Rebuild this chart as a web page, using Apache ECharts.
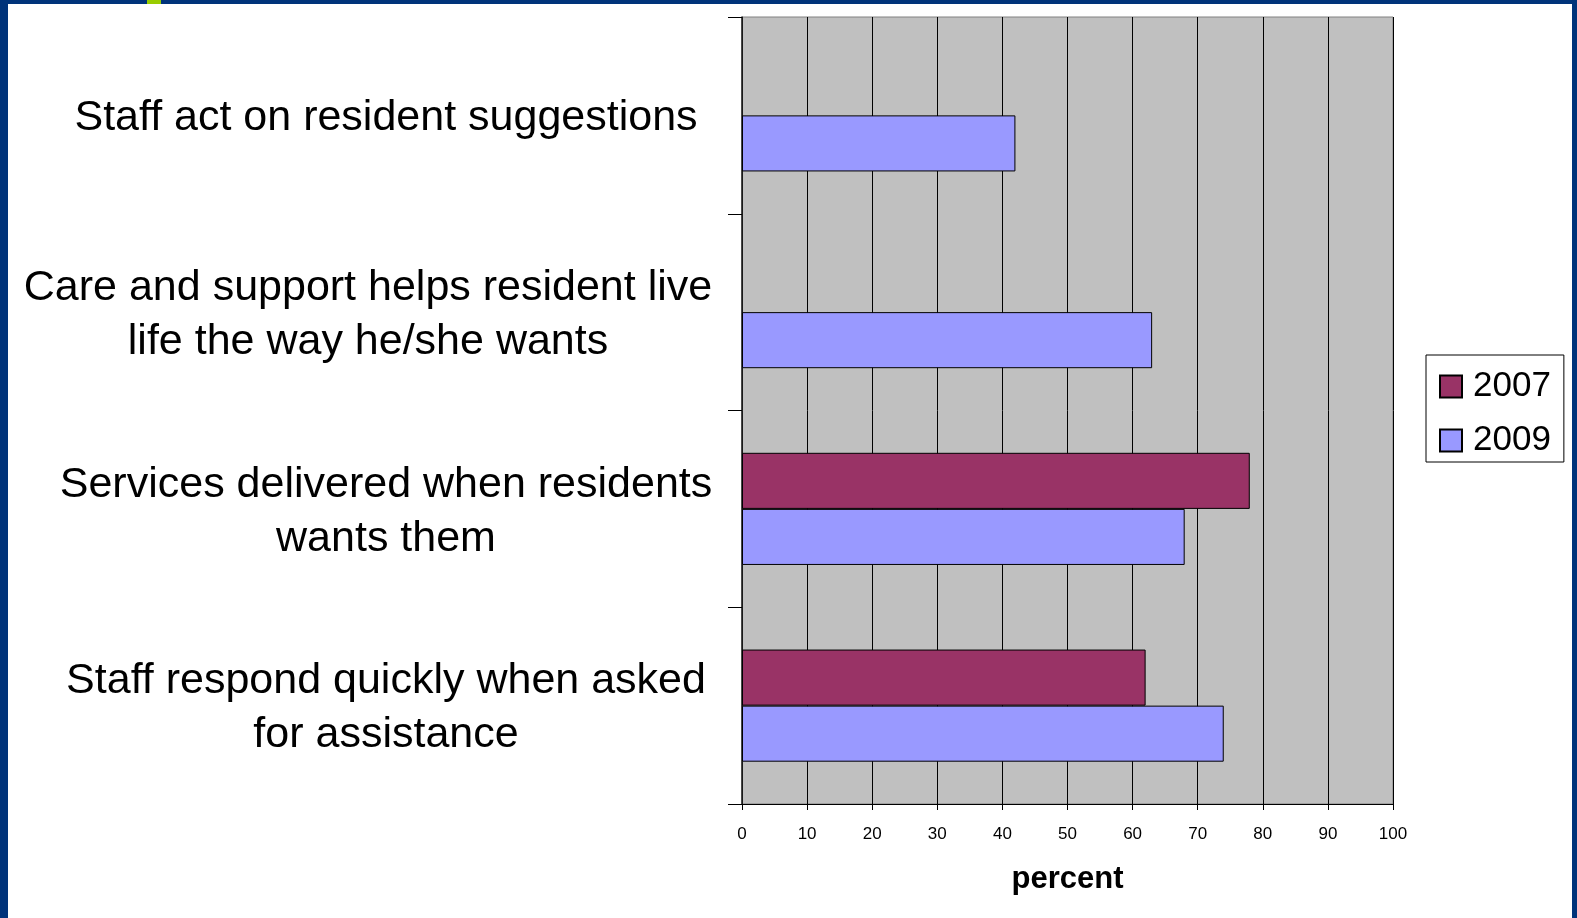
<!DOCTYPE html>
<html>
<head>
<meta charset="utf-8">
<script src="https://cdn.jsdelivr.net/npm/echarts@6/dist/echarts.min.js"></script>
<style>
html,body{margin:0;padding:0;background:#fff;}
#chart{width:1577px;height:918px;}
</style>
</head>
<body>
<div id="chart"></div>
<script>
const categories = [
  "Staff respond quickly when asked\nfor assistance",
  "Services delivered when residents\nwants them",
  "Care and support helps resident live\nlife the way he/she wants",
  "Staff act on resident suggestions"
];
const seriesNames = ["2007", "2009"];
const values2007 = [62, 78, null, null];
const values2009 = [74, 68, 63, 42];
const xMin = 0, xMax = 100, xStep = 10;

const FONT = "'Liberation Sans', Arial, Helvetica, sans-serif";
const chart = echarts.init(document.getElementById('chart'), null, {renderer: 'canvas'});

chart.setOption({
  backgroundColor: '#ffffff',
  animation: false,
  grid: {
    left: 742, right: 184, top: 17, bottom: 114,
    containLabel: false, outerBoundsMode: 'none',
    show: true, backgroundColor: '#C0C0C0', borderColor: '#808080', borderWidth: 1
  },
  legend: {
    data: seriesNames,
    orient: 'vertical',
    left: 1426, top: 355,
    backgroundColor: '#ffffff',
    borderColor: '#000000', borderWidth: 1,
    padding: [14, 13, 4, 13],
    itemWidth: 22, itemHeight: 22, itemGap: 19,
    icon: 'rect',
    textStyle: {fontFamily: FONT, fontSize: 35, color: '#000', padding: [0, 0, 0, 6]}
  },
  xAxis: {
    type: 'value', min: xMin, max: xMax, interval: xStep,
    name: 'percent', nameLocation: 'middle', nameGap: 60,
    nameTextStyle: {fontFamily: FONT, fontSize: 31, fontWeight: 'bold', color: '#000'},
    axisLine: {show: true, lineStyle: {color: '#000', width: 1}},
    axisTick: {show: true, length: 6, lineStyle: {color: '#000'}},
    axisLabel: {fontFamily: FONT, fontSize: 17, color: '#000', margin: 22},
    splitLine: {show: true, lineStyle: {color: '#000', width: 1}}
  },
  yAxis: {
    type: 'category', data: categories,
    axisLine: {show: true, lineStyle: {color: '#222', width: 1.5}},
    axisTick: {show: true, length: 14, lineStyle: {color: '#000'}},
    axisLabel: {
      fontFamily: FONT, fontSize: 43, color: '#000', margin: 356,
      align: 'center', lineHeight: 54,
      formatter: function (v) {
        const key = v.indexOf('Care') === 0 ? 'c' : 'n';
        return v.split('\n').map(l => '{' + key + '|' + l + '}').join('\n');
      },
      rich: {
        n: {fontFamily: FONT, fontSize: 43, color: '#000', lineHeight: 54, padding: [6, 0, 0, 0]},
        c: {fontFamily: FONT, fontSize: 43, color: '#000', lineHeight: 54, padding: [6, 36, 0, 0]}
      }
    },
    splitLine: {show: false}
  },
  series: [
    {
      name: seriesNames[0], type: 'bar', data: values2007,
      barGap: '0%', barCategoryGap: '43%',
      itemStyle: {color: '#993366', borderColor: '#000', borderWidth: 1}
    },
    {
      name: seriesNames[1], type: 'bar', data: values2009,
      barGap: '0%', barCategoryGap: '43%',
      itemStyle: {color: '#9999FF', borderColor: '#000', borderWidth: 1}
    }
  ],
  graphic: [
    {type: 'rect', shape: {x: 0, y: 0, width: 8, height: 918}, style: {fill: '#00337A'}, silent: true},
    {type: 'rect', shape: {x: 0, y: 0, width: 1577, height: 4}, style: {fill: '#00337A'}, silent: true},
    {type: 'rect', shape: {x: 1572, y: 0, width: 5, height: 918}, style: {fill: '#00337A'}, silent: true},
    {type: 'rect', shape: {x: 147, y: 0, width: 14, height: 4}, style: {fill: '#99CC00'}, silent: true}
  ]
});
</script>
</body>
</html>
